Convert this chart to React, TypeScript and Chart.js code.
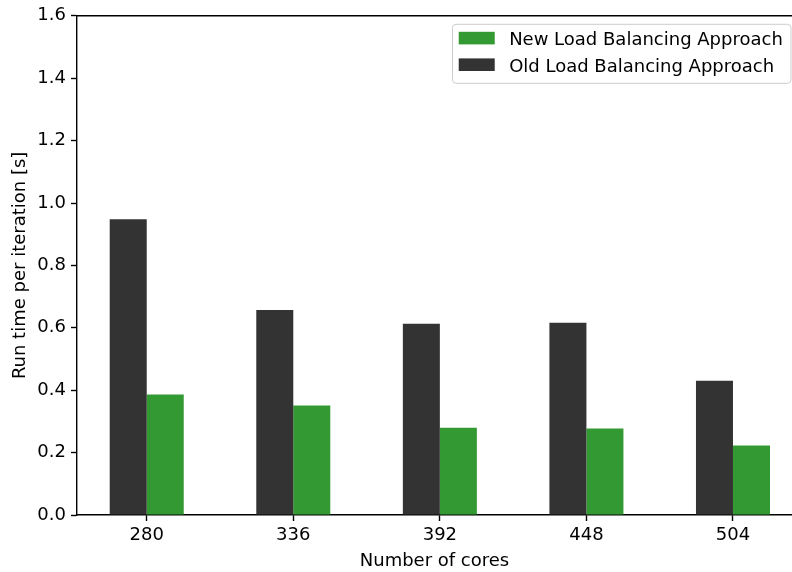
import React, { useEffect, useRef } from 'react';
import { Chart, registerables } from 'chart.js';

Chart.register(...registerables);

const cores = [280, 336, 392, 448, 504];
const oldTimes = [0.948, 0.657, 0.613, 0.616, 0.43];
const newTimes = [0.386, 0.351, 0.28, 0.277, 0.223];
const yTicks = [0, 0.2, 0.4, 0.6, 0.8, 1.0, 1.2, 1.4, 1.6];
const oldLabel = 'Old Load Balancing Approach';
const newLabel = 'New Load Balancing Approach';
const xTitle = 'Number of cores';
const yTitle = 'Run time per iteration [s]';

const FONT = '"DejaVu Sans", "Liberation Sans", sans-serif';
const FS = 18;

const framePlugin = {
  id: 'frameAndLegend',
  afterDraw(chart: any) {
    const { ctx, chartArea } = chart;
    ctx.save();
    // top spine
    ctx.strokeStyle = '#000';
    ctx.lineWidth = 1.4;
    ctx.beginPath();
    ctx.moveTo(chartArea.left - 0.7, chartArea.top);
    ctx.lineTo(chartArea.right, chartArea.top);
    ctx.stroke();

    // legend (matplotlib style, upper right)
    ctx.font = `${FS}px ${FONT}`;
    const items = chart.data.datasets
      .map((d: any) => ({ label: d.label as string, color: d.backgroundColor as string }))
      .reverse();
    const maxW = Math.max(...items.map((i: any) => ctx.measureText(i.label).width));
    const pad = 0.4 * FS;
    const handle = 2 * FS;
    const gap = 0.8 * FS;
    const boxRight = chartArea.right - 2;
    const boxW = pad + handle + gap + maxW + pad;
    const boxLeft = boxRight - boxW;
    const boxTop = chartArea.top + 8;
    const boxH = 59;
    ctx.beginPath();
    (ctx as any).roundRect(Math.round(boxLeft) + 0.5, boxTop + 0.5, boxW, boxH, 3.5);
    ctx.fillStyle = 'rgba(255,255,255,0.8)';
    ctx.fill();
    ctx.strokeStyle = '#cccccc';
    ctx.lineWidth = 1;
    ctx.stroke();

    const rowStep = 26.6;
    const patchH = 0.7 * FS;
    items.forEach((it: any, i: number) => {
      const pTop = boxTop + 8 + i * rowStep;
      ctx.fillStyle = it.color;
      ctx.fillRect(boxLeft + pad, pTop, handle, patchH);
      ctx.fillStyle = '#000';
      ctx.textBaseline = 'alphabetic';
      ctx.textAlign = 'left';
      ctx.fillText(it.label, boxLeft + pad + handle + gap, pTop + patchH + 0.5);
    });
    ctx.restore();
  },
};

export default function App() {
  const ref = useRef<HTMLCanvasElement>(null);

  useEffect(() => {
    const chart = new Chart(ref.current as HTMLCanvasElement, {
      type: 'bar',
      data: {
        datasets: [
          {
            label: oldLabel,
            data: cores.map((c, i) => ({ x: c, y: oldTimes[i] })),
            backgroundColor: '#333333',
            borderWidth: 0,
            categoryPercentage: 0.505,
            barPercentage: 1,
          },
          {
            label: newLabel,
            data: cores.map((c, i) => ({ x: c, y: newTimes[i] })),
            backgroundColor: '#339933',
            borderWidth: 0,
            categoryPercentage: 0.505,
            barPercentage: 1,
          },
        ],
      },
      options: {
        responsive: false,
        animation: false,
        devicePixelRatio: 1,
        layout: { padding: { top: 14, right: 0, left: 0, bottom: 0 } },
        plugins: {
          legend: { display: false },
          tooltip: { enabled: false },
        },
        scales: {
          x: {
            type: 'linear',
            min: 253.36,
            max: 526.55,
            offset: false,
            afterBuildTicks: (s: any) => {
              s.ticks = cores.map((v) => ({ value: v }));
            },
            afterFit: (s: any) => {
              s.height = 57;
            },
            ticks: {
              font: { family: FONT, size: FS },
              color: '#000',
              padding: 4,
              autoSkip: false,
              maxRotation: 0,
              callback: (v: any) => String(v),
            },
            grid: {
              offset: false,
              drawOnChartArea: false,
              drawTicks: true,
              tickLength: 6,
              tickColor: '#000',
              tickWidth: 1.4,
            },
            border: { display: true, color: '#000', width: 1.4 },
            title: {
              display: true,
              text: xTitle,
              font: { family: FONT, size: FS },
              color: '#000',
              padding: { top: 2, bottom: 0 },
            },
          },
          y: {
            min: 0,
            max: 1.6,
            afterBuildTicks: (s: any) => {
              s.ticks = yTicks.map((v) => ({ value: v }));
            },
            afterFit: (s: any) => {
              s.width = 77;
            },
            ticks: {
              font: { family: FONT, size: FS },
              color: '#000',
              padding: 5,
              callback: (v: any) => Number(v).toFixed(1),
            },
            grid: {
              drawOnChartArea: false,
              drawTicks: true,
              tickLength: 6,
              tickColor: '#000',
              tickWidth: 1.4,
            },
            border: { display: true, color: '#000', width: 1.4 },
            title: {
              display: true,
              text: yTitle,
              font: { family: FONT, size: FS },
              color: '#000',
              padding: { top: 10, bottom: 0 },
            },
          },
        },
      },
      plugins: [framePlugin],
    } as any);
    return () => chart.destroy();
  }, []);

  return (
    <div
      style={{
        position: 'fixed',
        left: 0,
        top: 0,
        width: 792,
        height: 572,
        background: '#fff',
        overflow: 'hidden',
      }}
    >
      <canvas ref={ref} width={792} height={572} style={{ display: 'block', width: 792, height: 572 }} />
    </div>
  );
}
